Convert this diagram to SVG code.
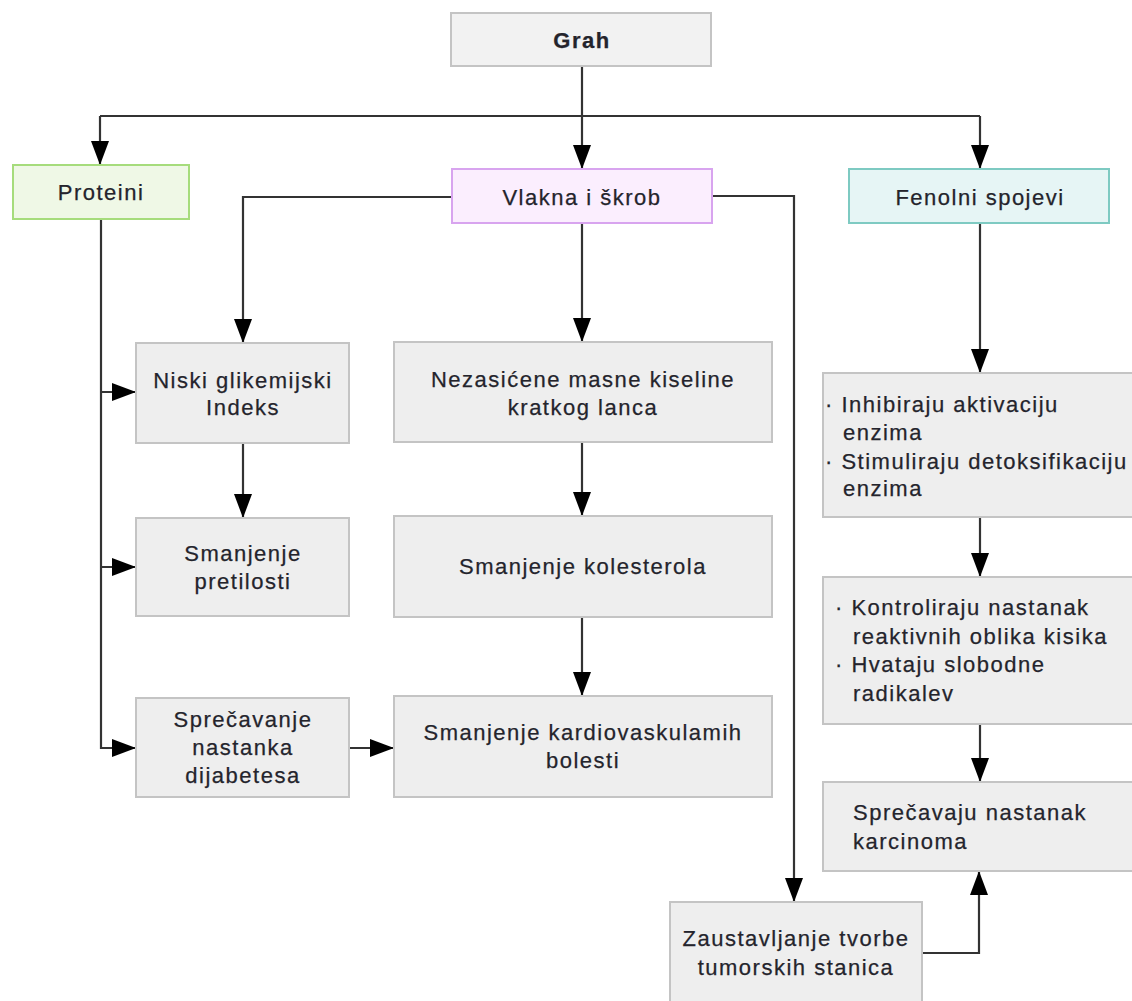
<svg xmlns="http://www.w3.org/2000/svg" width="1132" height="1001" viewBox="0 0 1132 1001">
<style>
.box{fill:#eeeeee;stroke:#c4c4c4;stroke-width:2}
.t{font-family:"Liberation Sans",Arial,sans-serif;font-size:22px;fill:#24242c;letter-spacing:1.5px;stroke:#24242c;stroke-width:0.25px}
.c{text-anchor:middle}
.conn{fill:none;stroke:#333333;stroke-width:2.2}
</style>
<defs>
<marker id="ah" markerUnits="userSpaceOnUse" markerWidth="24" markerHeight="18" refX="24" refY="9" orient="auto">
<path d="M0,0 L24,9 L0,18 z" fill="#000"/>
</marker>
</defs>
<rect width="1132" height="1001" fill="#ffffff"/>
<g id="connectors">
<path class="conn" d="M582,66 V116"/>
<path class="conn" d="M100,116 H980"/>
<path class="conn" d="M100,116 V165" marker-end="url(#ah)"/>
<path class="conn" d="M582,116 V169" marker-end="url(#ah)"/>
<path class="conn" d="M980,116 V169" marker-end="url(#ah)"/>
<path class="conn" d="M101,219 V748 H136" marker-end="url(#ah)"/>
<path class="conn" d="M101,392 H136" marker-end="url(#ah)"/>
<path class="conn" d="M101,567 H136" marker-end="url(#ah)"/>
<path class="conn" d="M452,197 H243 V343" marker-end="url(#ah)"/>
<path class="conn" d="M582,223 V342" marker-end="url(#ah)"/>
<path class="conn" d="M712,196 H794 V902" marker-end="url(#ah)"/>
<path class="conn" d="M243,443 V518" marker-end="url(#ah)"/>
<path class="conn" d="M582,442 V516" marker-end="url(#ah)"/>
<path class="conn" d="M582,617 V696" marker-end="url(#ah)"/>
<path class="conn" d="M349,748 H394" marker-end="url(#ah)"/>
<path class="conn" d="M980,223 V373" marker-end="url(#ah)"/>
<path class="conn" d="M980,517 V577" marker-end="url(#ah)"/>
<path class="conn" d="M980,724 V782" marker-end="url(#ah)"/>
<path class="conn" d="M922,953 H979 V871" marker-end="url(#ah)"/>
</g>
<g id="grah">
<rect class="box" x="451" y="13" width="260" height="53" style="fill:#f2f2f2"/>
<text class="t c" x="582" y="48" font-weight="bold">Grah</text>
</g>
<g id="proteini">
<rect x="13" y="165" width="176" height="54" fill="#eff8e6" stroke="#a6dc7c" stroke-width="2"/>
<text class="t c" x="101" y="200">Proteini</text>
</g>
<g id="vlakna">
<rect x="452" y="169" width="260" height="54" fill="#fbeefe" stroke="#d8a4ef" stroke-width="2"/>
<text class="t c" x="582" y="205">Vlakna i škrob</text>
</g>
<g id="fenolni">
<rect x="849" y="169" width="260" height="54" fill="#e6f5f5" stroke="#7ecac2" stroke-width="2"/>
<text class="t c" x="980" y="205">Fenolni spojevi</text>
</g>
<g id="niski">
<rect class="box" x="136" y="343" width="213" height="100"/>
<text class="t c" x="243" y="388">Niski glikemijski</text>
<text class="t c" x="243" y="415">Indeks</text>
</g>
<g id="pretilost">
<rect class="box" x="136" y="518" width="213" height="98"/>
<text class="t c" x="243" y="561">Smanjenje</text>
<text class="t c" x="243" y="589">pretilosti</text>
</g>
<g id="dijabetes">
<rect class="box" x="136" y="698" width="213" height="99"/>
<text class="t c" x="243" y="727">Sprečavanje</text>
<text class="t c" x="243" y="755">nastanka</text>
<text class="t c" x="243" y="783">dijabetesa</text>
</g>
<g id="nezasicene">
<rect class="box" x="394" y="342" width="378" height="100"/>
<text class="t c" x="583" y="387">Nezasićene masne kiseline</text>
<text class="t c" x="583" y="415">kratkog lanca</text>
</g>
<g id="kolesterol">
<rect class="box" x="394" y="516" width="378" height="101"/>
<text class="t c" x="583" y="574">Smanjenje kolesterola</text>
</g>
<g id="kardio">
<rect class="box" x="394" y="696" width="378" height="101"/>
<text class="t c" x="583" y="740">Smanjenje kardiovaskulamih</text>
<text class="t c" x="583" y="768">bolesti</text>
</g>
<g id="enzimi">
<rect class="box" x="823" y="373" width="320" height="144"/>
<text class="t" x="825" y="412">· Inhibiraju aktivaciju</text>
<text class="t" x="843" y="440">enzima</text>
<text class="t" x="825" y="469">· Stimuliraju detoksifikaciju</text>
<text class="t" x="843" y="496">enzima</text>
</g>
<g id="radikali">
<rect class="box" x="823" y="577" width="320" height="147"/>
<text class="t" x="835" y="615">· Kontroliraju nastanak</text>
<text class="t" x="853" y="644">reaktivnih oblika kisika</text>
<text class="t" x="835" y="672">· Hvataju slobodne</text>
<text class="t" x="853" y="701">radikalev</text>
</g>
<g id="karcinom">
<rect class="box" x="823" y="782" width="320" height="89"/>
<text class="t" x="853" y="820">Sprečavaju nastanak</text>
<text class="t" x="853" y="849">karcinoma</text>
</g>
<g id="tumor">
<rect class="box" x="670" y="902" width="252" height="110"/>
<text class="t c" x="796" y="946">Zaustavljanje tvorbe</text>
<text class="t c" x="796" y="975">tumorskih stanica</text>
</g>
</svg>
